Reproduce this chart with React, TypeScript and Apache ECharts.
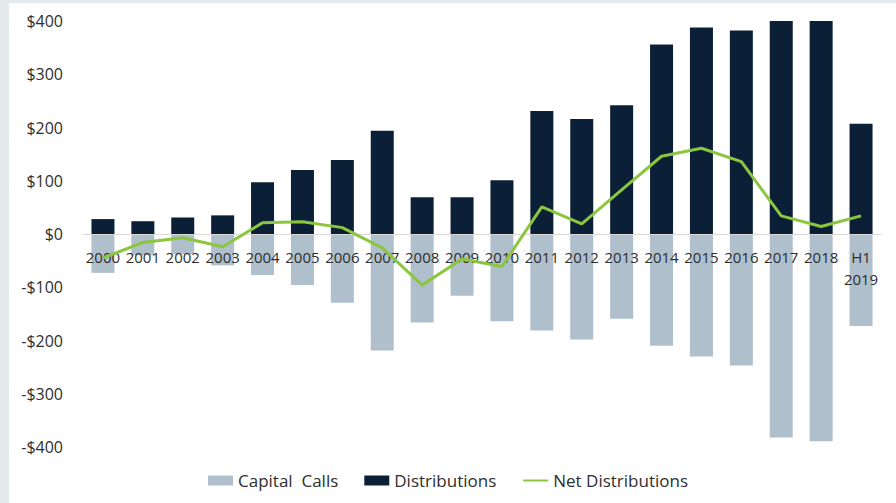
import React, { useEffect, useRef } from "react";
import * as echarts from "echarts";

const categories = [
  "2000", "2001", "2002", "2003", "2004", "2005", "2006", "2007", "2008", "2009",
  "2010", "2011", "2012", "2013", "2014", "2015", "2016", "2017", "2018", "H1\n2019",
];
const capitalCalls = [
  -73, -40, -38, -59, -77, -96, -129, -219, -166, -116,
  -164, -181, -198, -159, -210, -230, -247, -382, -389, -173,
];
const distributions = [
  28, 24, 31, 35, 97, 120, 139, 194, 69, 69,
  101, 231, 216, 242, 356, 388, 382, 416, 403, 207,
];
const netDistributions = [
  -45, -16, -7, -24, 21, 23, 12, -26, -96, -47,
  -61, 51, 19, 83, 146, 161, 136, 34, 14, 34,
];
const yTicks = [-400, -300, -200, -100, 0, 100, 200, 300, 400];

const FONT = "'Open Sans', 'Noto Sans', sans-serif";
const TEXT = "#2e2e2e";

export default function App() {
  const ref = useRef<HTMLDivElement>(null);

  useEffect(() => {
    document.body.style.margin = "0";
    if (!ref.current) return;
    const chart = echarts.init(ref.current, null, { renderer: "svg" });
    const gridTop = 21;
    const gridBottom = 56;
    const plotH = 503 - gridTop - gridBottom;
    const yMin = yTicks[0];
    const yMax = yTicks[yTicks.length - 1];
    const zeroOffset = -(plotH * (0 - yMin)) / (yMax - yMin);
    chart.setOption({
      animation: false,
      backgroundColor: "transparent",
      textStyle: { fontFamily: FONT, color: TEXT },
      grid: { left: 83, right: 15, top: gridTop, bottom: gridBottom, containLabel: false },
      legend: {
        bottom: 9,
        left: "center",
        itemWidth: 25,
        itemHeight: 10,
        itemGap: 26,
        textStyle: { fontFamily: FONT, fontSize: 17, color: TEXT },
        data: [
          { name: "Capital  Calls", icon: "rect" },
          { name: "Distributions", icon: "rect" },
          { name: "Net Distributions", itemStyle: { opacity: 0 } },
        ],
      },
      xAxis: {
        type: "category",
        data: categories,
        position: "bottom",
        offset: zeroOffset,
        axisLine: { onZero: false, lineStyle: { color: "#d9d9d9", width: 1 } },
        axisTick: { show: false },
        axisLabel: {
          interval: 0,
          margin: 12,
          fontSize: 15,
          lineHeight: 22,
          color: TEXT,
          fontFamily: FONT,
        },
        z: 10,
      },
      yAxis: {
        type: "value",
        min: yMin,
        max: yMax,
        interval: 100,
        splitLine: { show: false },
        axisLine: { show: false },
        axisTick: { show: false },
        axisLabel: {
          margin: 20,
          fontSize: 16,
          color: TEXT,
          fontFamily: FONT,
          formatter: (v: number) => (v < 0 ? "-$" + Math.abs(v) : "$" + v),
        },
      },
      series: [
        {
          name: "Capital  Calls",
          type: "bar",
          stack: "total",
          data: capitalCalls,
          barWidth: 23,
          itemStyle: { color: "#b0bfcc" },
          z: 1,
        },
        {
          name: "Distributions",
          type: "bar",
          stack: "total",
          data: distributions,
          barWidth: 23,
          itemStyle: { color: "#0b2037" },
          z: 1,
        },
        {
          name: "Net Distributions",
          type: "line",
          data: netDistributions,
          symbol: "none",
          lineStyle: { color: "#8cc63f", width: 3 },
          itemStyle: { color: "#8cc63f" },
          z: 20,
        },
      ],
    });
    return () => chart.dispose();
  }, []);

  return (
    <div style={{ position: "relative", width: 896, height: 503, background: "#e3eaee", overflow: "hidden" }}>
      <div style={{ position: "absolute", left: 9, top: 3, width: 887, height: 500, background: "#ffffff" }} />
      <div ref={ref} style={{ position: "absolute", left: 0, top: 0, width: 896, height: 503 }} />
    </div>
  );
}
